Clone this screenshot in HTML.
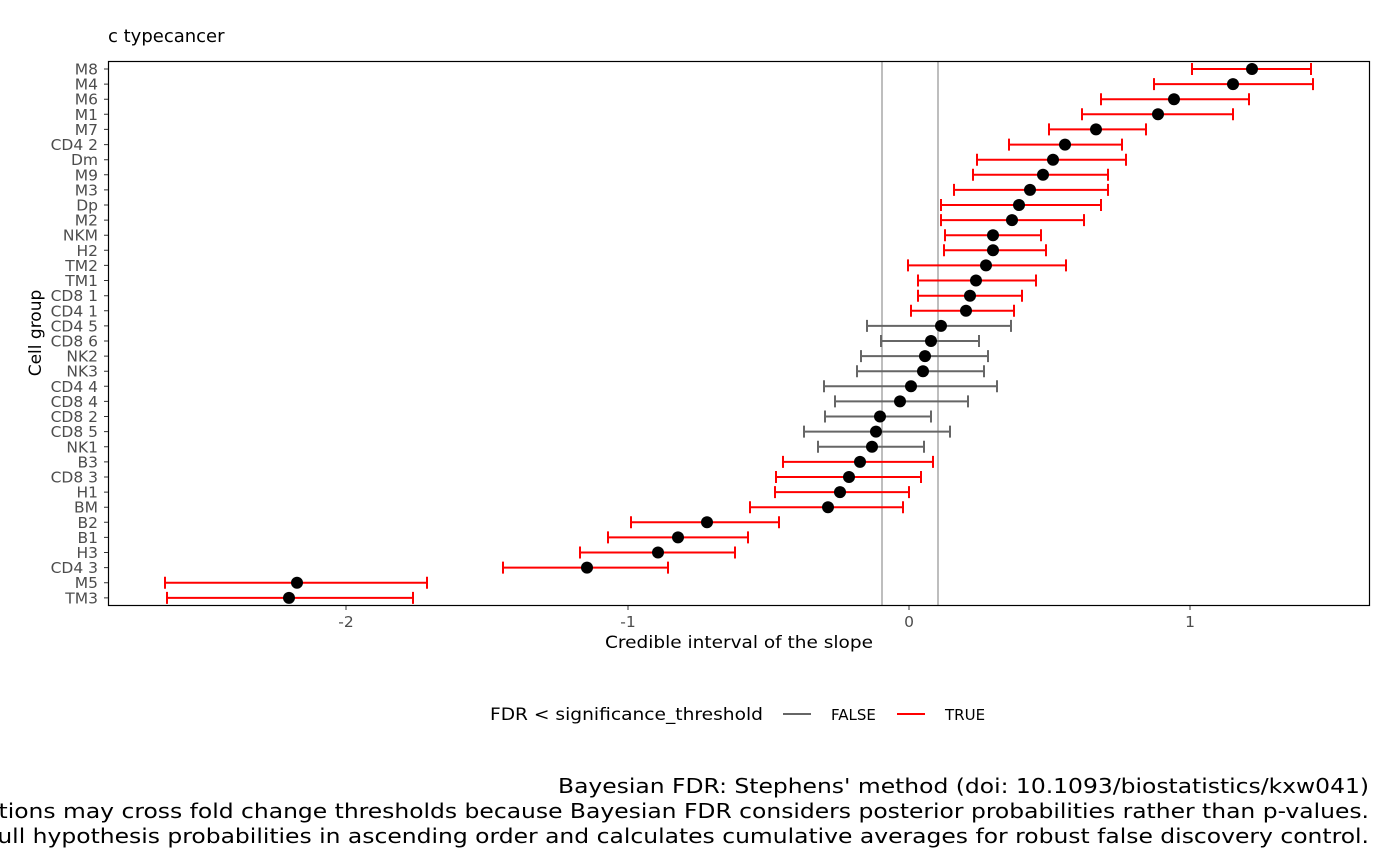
<!DOCTYPE html>
<html><head><meta charset="utf-8"><style>
body{margin:0;background:#fff;}
svg{display:block;font-family:"DejaVu Sans","Liberation Sans",sans-serif;}
.r path{stroke:#ff0000;stroke-width:2;fill:none}
.g path{stroke:#666;stroke-width:2;fill:none}
circle{fill:#000}
.yl text{font-size:15.5px;fill:#4d4d4d;text-anchor:end}
</style></head><body>
<svg width="1400" height="865" viewBox="0 0 1400 865">
<text x="108" y="42" font-size="18" fill="#000">c typecancer</text>
<line x1="882" y1="61" x2="882" y2="605" stroke="#bebebe" stroke-width="2"/>
<line x1="938" y1="61" x2="938" y2="605" stroke="#bebebe" stroke-width="2"/>
<g id="rows">
<g class="r" transform="translate(0,69)"><path d="M1192 0H1311M1192 -6V6M1311 -6V6"/><circle cx="1252" r="6"/></g>
<g class="r" transform="translate(0,84.1)"><path d="M1154 0H1313M1154 -6V6M1313 -6V6"/><circle cx="1233" r="6"/></g>
<g class="r" transform="translate(0,99.2)"><path d="M1101 0H1249M1101 -6V6M1249 -6V6"/><circle cx="1174" r="6"/></g>
<g class="r" transform="translate(0,114.3)"><path d="M1082 0H1233M1082 -6V6M1233 -6V6"/><circle cx="1158" r="6"/></g>
<g class="r" transform="translate(0,129.4)"><path d="M1049 0H1146M1049 -6V6M1146 -6V6"/><circle cx="1096" r="6"/></g>
<g class="r" transform="translate(0,144.6)"><path d="M1009 0H1122M1009 -6V6M1122 -6V6"/><circle cx="1065" r="6"/></g>
<g class="r" transform="translate(0,159.7)"><path d="M977 0H1126M977 -6V6M1126 -6V6"/><circle cx="1053" r="6"/></g>
<g class="r" transform="translate(0,174.8)"><path d="M973 0H1108M973 -6V6M1108 -6V6"/><circle cx="1043" r="6"/></g>
<g class="r" transform="translate(0,189.9)"><path d="M954 0H1108M954 -6V6M1108 -6V6"/><circle cx="1030" r="6"/></g>
<g class="r" transform="translate(0,205)"><path d="M941 0H1101M941 -6V6M1101 -6V6"/><circle cx="1019" r="6"/></g>
<g class="r" transform="translate(0,220.1)"><path d="M941 0H1084M941 -6V6M1084 -6V6"/><circle cx="1012" r="6"/></g>
<g class="r" transform="translate(0,235.2)"><path d="M945 0H1041M945 -6V6M1041 -6V6"/><circle cx="993" r="6"/></g>
<g class="r" transform="translate(0,250.3)"><path d="M944 0H1046M944 -6V6M1046 -6V6"/><circle cx="993" r="6"/></g>
<g class="r" transform="translate(0,265.4)"><path d="M908 0H1066M908 -6V6M1066 -6V6"/><circle cx="986" r="6"/></g>
<g class="r" transform="translate(0,280.5)"><path d="M918 0H1036M918 -6V6M1036 -6V6"/><circle cx="976" r="6"/></g>
<g class="r" transform="translate(0,295.7)"><path d="M918 0H1022M918 -6V6M1022 -6V6"/><circle cx="970" r="6"/></g>
<g class="r" transform="translate(0,310.8)"><path d="M911 0H1014M911 -6V6M1014 -6V6"/><circle cx="966" r="6"/></g>
<g class="g" transform="translate(0,325.9)"><path d="M867 0H1011M867 -6V6M1011 -6V6"/><circle cx="941" r="6"/></g>
<g class="g" transform="translate(0,341)"><path d="M881 0H979M881 -6V6M979 -6V6"/><circle cx="931" r="6"/></g>
<g class="g" transform="translate(0,356.1)"><path d="M861 0H988M861 -6V6M988 -6V6"/><circle cx="925" r="6"/></g>
<g class="g" transform="translate(0,371.2)"><path d="M857 0H984M857 -6V6M984 -6V6"/><circle cx="923" r="6"/></g>
<g class="g" transform="translate(0,386.3)"><path d="M824 0H997M824 -6V6M997 -6V6"/><circle cx="911" r="6"/></g>
<g class="g" transform="translate(0,401.4)"><path d="M835 0H968M835 -6V6M968 -6V6"/><circle cx="900" r="6"/></g>
<g class="g" transform="translate(0,416.5)"><path d="M825 0H931M825 -6V6M931 -6V6"/><circle cx="880" r="6"/></g>
<g class="g" transform="translate(0,431.6)"><path d="M804 0H950M804 -6V6M950 -6V6"/><circle cx="876" r="6"/></g>
<g class="g" transform="translate(0,446.8)"><path d="M818 0H924M818 -6V6M924 -6V6"/><circle cx="872" r="6"/></g>
<g class="r" transform="translate(0,461.9)"><path d="M783 0H933M783 -6V6M933 -6V6"/><circle cx="860" r="6"/></g>
<g class="r" transform="translate(0,477)"><path d="M776 0H921M776 -6V6M921 -6V6"/><circle cx="849" r="6"/></g>
<g class="r" transform="translate(0,492.1)"><path d="M775 0H909M775 -6V6M909 -6V6"/><circle cx="840" r="6"/></g>
<g class="r" transform="translate(0,507.2)"><path d="M750 0H903M750 -6V6M903 -6V6"/><circle cx="828" r="6"/></g>
<g class="r" transform="translate(0,522.3)"><path d="M631 0H779M631 -6V6M779 -6V6"/><circle cx="707" r="6"/></g>
<g class="r" transform="translate(0,537.4)"><path d="M608 0H748M608 -6V6M748 -6V6"/><circle cx="678" r="6"/></g>
<g class="r" transform="translate(0,552.5)"><path d="M580 0H735M580 -6V6M735 -6V6"/><circle cx="658" r="6"/></g>
<g class="r" transform="translate(0,567.6)"><path d="M503 0H668M503 -6V6M668 -6V6"/><circle cx="587" r="6"/></g>
<g class="r" transform="translate(0,582.7)"><path d="M165 0H427M165 -6V6M427 -6V6"/><circle cx="297" r="6"/></g>
<g class="r" transform="translate(0,597.9)"><path d="M167 0H413M167 -6V6M413 -6V6"/><circle cx="289" r="6"/></g>
</g>
<rect x="108.5" y="61.5" width="1261" height="544" fill="none" stroke="#000" stroke-width="1.2"/>
<g class="yl">
<text x="98" y="74.5">M8</text><text x="98" y="89.6">M4</text><text x="98" y="104.7">M6</text><text x="98" y="119.8">M1</text><text x="98" y="134.9">M7</text><text x="98" y="150.1">CD4 2</text><text x="98" y="165.2">Dm</text><text x="98" y="180.3">M9</text><text x="98" y="195.4">M3</text><text x="98" y="210.5">Dp</text><text x="98" y="225.6">M2</text><text x="98" y="240.7">NKM</text><text x="98" y="255.8">H2</text><text x="98" y="270.9">TM2</text><text x="98" y="286">TM1</text><text x="98" y="301.2">CD8 1</text><text x="98" y="316.3">CD4 1</text><text x="98" y="331.4">CD4 5</text><text x="98" y="346.5">CD8 6</text><text x="98" y="361.6">NK2</text><text x="98" y="376.7">NK3</text><text x="98" y="391.8">CD4 4</text><text x="98" y="406.9">CD8 4</text><text x="98" y="422">CD8 2</text><text x="98" y="437.1">CD8 5</text><text x="98" y="452.3">NK1</text><text x="98" y="467.4">B3</text><text x="98" y="482.5">CD8 3</text><text x="98" y="497.6">H1</text><text x="98" y="512.7">BM</text><text x="98" y="527.8">B2</text><text x="98" y="542.9">B1</text><text x="98" y="558">H3</text><text x="98" y="573.1">CD4 3</text><text x="98" y="588.2">M5</text><text x="98" y="603.4">TM3</text>
</g>
<path stroke="#333" stroke-width="1" d="M104 69H108M104 84.1H108M104 99.2H108M104 114.3H108M104 129.4H108M104 144.6H108M104 159.7H108M104 174.8H108M104 189.9H108M104 205H108M104 220.1H108M104 235.2H108M104 250.3H108M104 265.4H108M104 280.5H108M104 295.7H108M104 310.8H108M104 325.9H108M104 341H108M104 356.1H108M104 371.2H108M104 386.3H108M104 401.4H108M104 416.5H108M104 431.6H108M104 446.8H108M104 461.9H108M104 477H108M104 492.1H108M104 507.2H108M104 522.3H108M104 537.4H108M104 552.5H108M104 567.6H108M104 582.7H108M104 597.9H108M346 606V610M628 606V610M909 606V610M1190 606V610"/>
<g font-size="15.5" fill="#4d4d4d" text-anchor="middle">
<text x="346" y="627">-2</text><text x="628" y="627">-1</text><text x="909" y="627">0</text><text x="1190" y="627">1</text>
</g>
<text x="739" y="648" font-size="17" text-anchor="middle" fill="#000" textLength="268" lengthAdjust="spacingAndGlyphs">Credible interval of the slope</text>
<text transform="translate(41,333) rotate(-90)" font-size="17" text-anchor="middle" fill="#000">Cell group</text>
<text x="490" y="720" font-size="17" fill="#000" textLength="273" lengthAdjust="spacingAndGlyphs">FDR &lt; significance_threshold</text>
<line x1="783" y1="714" x2="811" y2="714" stroke="#666" stroke-width="2"/>
<text x="831" y="720" font-size="15" fill="#000">FALSE</text>
<line x1="897" y1="714" x2="925" y2="714" stroke="#ff0000" stroke-width="2"/>
<text x="945" y="720" font-size="15" fill="#000">TRUE</text>
<g font-size="20" fill="#000" text-anchor="end" lengthAdjust="spacingAndGlyphs">
<text x="1369" y="793" textLength="811" lengthAdjust="spacingAndGlyphs">Bayesian FDR: Stephens' method (doi: 10.1093/biostatistics/kxw041)</text>
<text x="1369" y="818" textLength="1652" lengthAdjust="spacingAndGlyphs">Note: Significant populations may cross fold change thresholds because Bayesian FDR considers posterior probabilities rather than p-values.</text>
<text x="1369" y="843" textLength="1673" lengthAdjust="spacingAndGlyphs">Stephens' method sorts null hypothesis probabilities in ascending order and calculates cumulative averages for robust false discovery control.</text>
</g>
</svg>
</body></html>
